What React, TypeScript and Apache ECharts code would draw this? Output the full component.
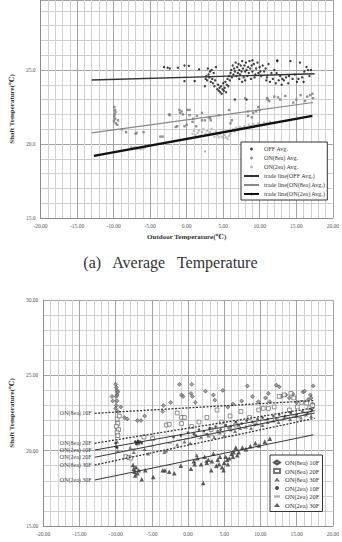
import React, { useEffect, useRef } from "react";
import * as echarts from "echarts";

type Pt = [number, number];

// ---------- Panel (a): average shaft temperature ----------
const offAvg: Pt[] = [
  [-3.1, 25.2], [-2.6, 25.15], [-2.3, 25.1], [-1.2, 25.15], [-0.3, 25.3], [0.3, 25.28], [1.7, 25.05],
  [-0.3, 24.25], [1.1, 24.25], [2.5, 23.9], [2.6, 24.4], [2.7, 24.6], [2.8, 24.3], [2.9, 25.1],
  [3.0, 24.7], [3.1, 24.5], [3.2, 24.9], [3.3, 24.2], [3.4, 25.0], [3.5, 24.4], [3.6, 24.1],
  [3.7, 24.8], [3.8, 23.9], [3.9, 24.3], [4.0, 25.2], [4.2, 23.7], [4.3, 24.0], [4.4, 23.6],
  [4.5, 23.8], [4.6, 23.5], [4.7, 23.9], [4.8, 23.4], [4.9, 23.7], [5.0, 24.1], [5.1, 23.6],
  [5.2, 23.8], [5.3, 24.2], [5.4, 23.5], [5.5, 24.0], [5.6, 24.4], [5.7, 23.9], [5.8, 24.6],
  [5.9, 24.3], [6.0, 24.8], [6.1, 25.0], [6.2, 24.5], [6.3, 25.3], [6.4, 24.7], [6.5, 25.1],
  [6.6, 24.9], [6.7, 25.5], [6.8, 24.6], [6.9, 25.2], [7.0, 24.8], [7.1, 25.4], [7.2, 25.0],
  [7.3, 24.7], [7.4, 25.3], [7.5, 24.9], [7.6, 25.6], [7.7, 25.1], [7.8, 24.5], [7.9, 25.3],
  [8.0, 24.9], [8.1, 25.5], [8.2, 25.0], [8.3, 24.6], [8.4, 25.2], [8.5, 24.8], [8.6, 25.6],
  [8.7, 25.1], [8.8, 24.4], [8.9, 25.3], [9.0, 24.9], [9.2, 25.4], [9.4, 24.7], [9.5, 25.1],
  [9.7, 25.5], [9.8, 24.8], [10.0, 25.2], [10.2, 24.6], [10.4, 25.3], [10.6, 24.9], [10.8, 25.1],
  [11.0, 24.5], [11.2, 25.4], [11.4, 24.2], [11.6, 24.8], [11.8, 24.4], [12.0, 25.0], [12.2, 24.1],
  [12.4, 25.6], [12.6, 24.3], [12.8, 24.6], [13.0, 24.0], [13.3, 24.3], [13.6, 24.5], [13.9, 24.1],
  [14.2, 25.6], [14.5, 24.4], [14.8, 24.7], [15.1, 24.2], [15.5, 25.5], [15.8, 24.5], [16.1, 24.9],
  [16.4, 25.2], [16.8, 24.6], [17.0, 25.0], [6.6, 23.0], [8.2, 23.0], [9.0, 25.65], [12.4, 25.65],
  [7.2, 24.4], [7.6, 24.2], [8.0, 24.3], [9.3, 24.5], [10.1, 24.9], [10.9, 24.3], [12.3, 24.8],
  [13.1, 24.4], [14.0, 24.6], [15.3, 24.4], [16.0, 24.2], [16.6, 25.0],
];

const on8Avg: Pt[] = [
  [-9.9, 22.5], [-9.8, 22.3], [-9.75, 22.15], [-9.85, 22.0], [-9.9, 21.85], [-9.8, 21.7],
  [-9.95, 21.55], [-9.7, 21.4], [-9.5, 21.3], [-9.4, 21.6], [-8.85, 21.0], [-8.3, 20.8],
  [-7.0, 20.7], [-6.85, 20.75], [-5.9, 20.8], [-3.6, 20.5], [-3.3, 20.5], [-2.4, 22.0],
  [-2.3, 21.95], [-1.5, 21.15], [-1.3, 21.2], [-1.0, 22.3], [-0.9, 22.1], [-0.7, 22.2],
  [-0.5, 22.0], [-0.3, 21.2], [0.0, 21.3], [0.1, 22.3], [0.4, 22.3], [0.4, 21.95], [0.8, 21.5],
  [0.9, 21.7], [1.3, 21.2], [1.4, 21.9], [2.1, 21.6], [2.1, 22.1], [2.5, 21.6], [3.0, 21.8],
  [3.2, 21.75], [3.3, 21.6], [4.4, 21.95], [5.8, 22.3], [6.0, 21.4], [6.2, 21.6], [8.0, 23.1],
  [8.4, 21.9], [8.4, 22.2], [8.9, 21.8], [9.1, 22.1], [9.5, 22.2], [9.8, 22.5], [10.0, 22.3],
  [11.0, 23.1], [11.1, 23.0], [11.3, 22.9], [12.0, 23.2], [12.5, 23.15], [12.8, 23.0], [13.5, 23.25],
  [14.6, 22.8], [15.0, 23.0], [15.6, 23.3], [16.2, 22.9], [16.5, 23.2], [16.9, 23.3], [17.2, 23.4],
  [17.3, 23.1],
];

const on2Avg: Pt[] = [
  [-7.6, 19.8], [-7.4, 19.75], [-7.2, 19.7], [-7.0, 19.8], [-6.9, 19.65], [-6.7, 19.7],
  [-6.5, 19.75], [-6.3, 19.65], [-6.0, 19.7], [-5.7, 19.75], [0.8, 20.7], [1.0, 20.9],
  [1.2, 20.6], [1.5, 20.75], [1.7, 20.9], [1.9, 20.55], [2.1, 20.8], [2.3, 21.0], [2.5, 19.5],
  [2.6, 20.7], [2.8, 20.9], [3.0, 20.6], [3.2, 20.8], [3.4, 21.0], [3.6, 20.7], [3.8, 20.5],
  [4.0, 20.85], [4.2, 20.6], [4.4, 20.45], [4.6, 20.7], [4.8, 20.5], [5.0, 20.4], [5.2, 20.6],
  [5.4, 20.45], [5.6, 20.35], [5.8, 20.55], [6.0, 20.7], [6.2, 20.9], [6.4, 21.0], [6.6, 20.85],
  [6.8, 21.1], [7.0, 20.95], [7.3, 21.15], [7.6, 21.05], [7.9, 21.2], [8.2, 21.1], [8.5, 21.3],
  [8.8, 21.2], [9.1, 21.35], [9.4, 21.25], [9.8, 21.4], [10.2, 21.3], [10.6, 21.45], [11.0, 21.4],
  [11.4, 21.5],
];

const offTrend: Pt[] = [[-13.0, 24.32], [17.5, 24.75]];
const on8Trend: Pt[] = [[-13.0, 20.75], [17.3, 22.8]];
const on2Trend: Pt[] = [[-12.7, 19.2], [17.2, 21.9]];

// ---------- Panel (b): shaft temperature by floor ----------
const on8F10: Pt[] = [
  [-10.5, 23.6], [-10.4, 23.3], [-10.0, 24.4], [-9.9, 24.2], [-9.8, 24.0], [-9.7, 23.9], [-9.8, 23.7],
  [-9.9, 23.6], [-9.8, 23.3], [-9.9, 23.0], [-10.0, 22.8], [-9.7, 22.6], [-9.3, 22.9], [-8.8, 22.2],
  [-8.4, 22.1], [-7.0, 22.0], [-6.5, 22.0], [-6.0, 22.3], [-3.4, 23.0], [-3.5, 22.6], [-2.4, 23.2],
  [-1.2, 24.4], [-0.9, 23.7], [-0.7, 23.6], [0.4, 23.8], [0.5, 24.4], [0.6, 23.6], [1.0, 23.2],
  [2.4, 23.95], [3.5, 23.7], [3.7, 23.35], [4.8, 24.0], [5.5, 22.9], [6.2, 23.1], [7.4, 23.3],
  [8.2, 24.3], [8.9, 23.6], [9.7, 23.25], [10.7, 23.5], [11.1, 23.8], [11.3, 23.25], [12.2, 24.35],
  [12.6, 24.24], [12.9, 23.6], [13.5, 23.7], [14.0, 23.5], [14.5, 23.75], [15.0, 23.2], [15.9, 23.9],
  [16.1, 23.95], [16.6, 23.4], [16.9, 23.7], [17.0, 23.5], [17.3, 24.3], [17.2, 23.1],
];

const on8F20: Pt[] = [
  [-9.8, 22.1], [-9.7, 21.8], [-9.9, 21.6], [-9.6, 21.4], [-9.8, 21.2], [-9.7, 21.0], [-9.5, 22.3],
  [-8.6, 19.6], [-8.2, 19.55], [-7.9, 19.5], [-7.0, 20.5], [-6.1, 20.9], [-4.9, 20.8], [-3.0, 21.7],
  [-2.6, 21.75], [-1.5, 22.5], [-0.9, 22.2], [-0.5, 22.2], [-0.9, 21.8], [0.5, 21.6], [1.5, 21.9],
  [2.6, 22.2], [3.2, 21.4], [4.0, 22.7], [4.6, 21.9], [5.8, 22.3], [6.6, 21.7], [7.3, 22.6],
  [8.5, 22.2], [9.75, 22.7], [10.4, 22.8], [11.1, 22.8], [11.9, 22.9], [12.6, 23.6], [13.3, 23.7],
  [14.0, 22.7], [14.2, 23.8], [14.6, 23.5], [15.1, 22.9], [15.7, 23.2], [16.4, 23.15], [16.8, 22.85],
  [17.2, 23.0],
];

const on8F30: Pt[] = [
  [-9.8, 20.6], [-9.9, 20.3], [-9.7, 20.0], [-8.0, 20.2], [-7.5, 19.9], [-6.0, 20.1], [-5.5, 19.8],
  [-3.3, 19.9], [-3.0, 20.0], [-1.5, 20.4], [-0.5, 20.6], [0.3, 20.5], [1.2, 19.7], [2.5, 19.3],
  [1.8, 20.9], [2.8, 21.0], [3.6, 20.9], [4.4, 21.2], [5.0, 21.0], [5.9, 21.4], [6.5, 21.3],
  [7.2, 21.5], [8.0, 21.6], [8.7, 21.5], [9.5, 21.8], [10.3, 21.7], [11.0, 21.9], [11.8, 22.0],
  [12.5, 21.9], [13.3, 22.2], [14.1, 22.1], [14.9, 22.3], [15.6, 22.2], [16.3, 22.4], [17.0, 22.3],
];

const on2F10: Pt[] = [
  [-10.0, 20.5], [-9.8, 20.2], [-7.3, 20.6], [-7.0, 20.55], [-6.8, 20.5], [-6.6, 20.6], [-6.4, 20.5],
  [-2.0, 20.9], [-1.0, 21.0], [0.0, 21.2], [0.8, 21.1], [1.5, 21.4], [2.2, 21.3], [3.0, 21.5],
  [3.8, 21.6], [4.5, 21.4], [5.2, 21.7], [5.9, 21.6], [6.6, 21.9], [7.4, 21.8], [8.1, 22.0],
  [8.9, 21.9], [9.6, 22.1], [10.3, 22.2], [11.0, 22.1], [11.8, 22.3], [12.6, 22.4], [13.4, 22.3],
  [14.2, 22.5], [15.0, 22.4], [15.8, 22.6], [16.5, 22.5], [17.1, 22.7], [-7.1, 20.45], [-6.9, 20.65],
  [1.1, 21.0], [2.6, 21.1], [4.1, 21.3], [5.6, 21.5], [7.0, 21.7], [9.2, 21.7], [12.2, 22.1],
];

const on2F20: Pt[] = [
  [-9.9, 20.0], [-9.6, 19.9], [-7.5, 20.1], [-5.0, 20.3], [-2.5, 20.5], [-1.3, 20.7], [-0.2, 20.8],
  [0.7, 20.9], [1.6, 20.8], [2.4, 21.1], [3.3, 21.0], [4.1, 21.3], [4.9, 21.2], [5.6, 21.5],
  [6.3, 21.4], [7.0, 21.6], [7.8, 21.5], [8.6, 21.7], [9.3, 21.8], [10.1, 21.7], [10.8, 22.0],
  [11.5, 21.9], [12.3, 22.1], [13.0, 22.0], [13.8, 22.2], [14.6, 22.3], [15.4, 22.2], [16.2, 22.4],
  [16.9, 22.5],
];

const on2F30: Pt[] = [
  [-7.6, 19.05], [-7.5, 18.8], [-7.4, 18.6], [-7.2, 18.9], [-7.0, 18.5], [-6.8, 18.7], [-6.4, 18.1],
  [-5.9, 18.7], [-4.8, 18.25], [-3.5, 18.7], [-3.2, 18.7], [-2.6, 18.6], [-1.9, 18.5], [-1.0, 19.0],
  [0.4, 18.8], [0.8, 19.3], [1.3, 19.5], [1.8, 19.1], [2.1, 17.85], [2.3, 19.6], [2.8, 19.4],
  [3.2, 18.7], [3.5, 19.8], [3.9, 19.0], [4.1, 19.4], [4.4, 19.6], [4.7, 18.9], [5.0, 19.2],
  [5.2, 19.6], [5.5, 19.1], [5.7, 19.5], [6.0, 19.8], [6.3, 19.9], [6.6, 20.2], [7.0, 19.9],
  [7.5, 20.2], [8.0, 20.1], [8.6, 20.3], [9.3, 20.5], [9.8, 20.35], [10.6, 20.6], [11.3, 20.8],
  [-7.3, 18.35], [0.9, 19.1], [2.6, 19.2], [3.3, 19.3], [4.3, 19.1], [4.9, 18.7], [5.4, 19.4],
  [6.2, 19.6], [6.8, 19.7],
];

const trend8F10: Pt[] = [[-12.9, 22.48], [17.5, 23.33]];
const trend8F20: Pt[] = [[-12.9, 20.49], [17.5, 22.85]];
const trend2F10: Pt[] = [[-12.9, 20.04], [17.5, 22.65]];
const trend2F20: Pt[] = [[-12.9, 19.56], [17.5, 22.5]];
const trend8F30: Pt[] = [[-12.9, 19.05], [17.5, 22.15]];
const trend2F30: Pt[] = [[-12.9, 18.05], [17.3, 21.05]];

// The upper panel is cut just below its 30-degree gridline.
const upperYMax = 29.73;

const SERIF = "'Liberation Serif', 'DejaVu Serif', serif";
const MAJOR = "#a2a2a2";
const MINOR = "#d0d0d0";

// One gridline per degree, darker every fifth; labels on the fifth only.
function valueAxis(gridIndex: number, min: number, max: number, digits: number, extra: any = {}) {
  return {
    type: "value",
    gridIndex,
    min,
    max,
    interval: 1,
    axisLine: { show: true, onZero: false, lineStyle: { color: "#8c8c8c", width: 1 } },
    axisTick: { show: false },
    axisLabel: {
      fontFamily: SERIF,
      fontSize: 5.5,
      color: "#555",
      margin: 5,
      formatter: (v: number) => (Math.abs(v / 5 - Math.round(v / 5)) < 1e-6 ? v.toFixed(digits) : ""),
    },
    splitLine: { show: true, lineStyle: { color: [MAJOR, MINOR, MINOR, MINOR, MINOR], width: 1 } },
    ...extra,
  };
}

const axisName = {
  fontFamily: SERIF,
  fontSize: 7,
  fontWeight: "bold",
  color: "#333",
};

function scatter(name: string, data: Pt[], idx: number, symbol: string, size: any, itemStyle: any) {
  return {
    type: "scatter",
    name,
    data,
    xAxisIndex: idx,
    yAxisIndex: idx,
    symbol,
    symbolSize: size,
    itemStyle,
    silent: true,
  };
}

function trend(name: string, pts: Pt[], idx: number, lineStyle: any, label?: string) {
  return {
    type: "line",
    name,
    xAxisIndex: idx,
    yAxisIndex: idx,
    symbol: "circle",
    symbolSize: 0,
    showSymbol: true,
    lineStyle,
    itemStyle: { color: lineStyle.color },
    silent: true,
    z: 3,
    data: pts.map((p, i) =>
      i === 0 && label
        ? {
            value: p,
            label: {
              show: true,
              position: "left",
              distance: 3,
              formatter: label,
              fontFamily: SERIF,
              fontSize: 6,
              color: "#444",
            },
          }
        : { value: p }
    ),
  };
}

export default function App() {
  const ref = useRef<HTMLDivElement>(null);

  useEffect(() => {
    if (!ref.current) return;
    const chart = echarts.init(ref.current, undefined, { renderer: "svg" });
    chart.setOption({
      animation: false,
      backgroundColor: "#fff",
      grid: [
        { left: 35, right: 9, top: 0, height: 218 },
        { left: 35, right: 9, top: 300, height: 226 },
      ],
      xAxis: [
        valueAxis(0, -20, 20, 2, {
          name: "Outdoor Temperature(\u2103)",
          nameLocation: "middle",
          nameGap: 15,
          nameTextStyle: axisName,
        }),
        valueAxis(1, -20, 20, 2),
      ],
      yAxis: [
        valueAxis(0, 15, upperYMax, 1, {
          name: "Shaft Temperature(\u2103)",
          nameLocation: "middle",
          nameGap: 21,
          nameTextStyle: axisName,
        }),
        valueAxis(1, 15, 30, 2, {
          name: "Shaft Temperature(\u2103)",
          nameLocation: "middle",
          nameGap: 24,
          nameTextStyle: axisName,
        }),
      ],
      legend: [
        {
          left: 241,
          top: 142,
          orient: "vertical",
          selectedMode: false,
          data: [
            { name: "OFF Avg.", icon: "circle" },
            { name: "ON(8ea) Avg.", icon: "circle" },
            { name: "ON(2ea) Avg.", icon: "circle" },
            "trade line(OFF Avg.)",
            "trade line(ON(8ea) Avg.)",
            "trade line(ON(2ea) Avg.)",
          ],
          itemWidth: 15,
          itemHeight: 3,
          itemGap: 3,
          padding: [4, 2, 3, 2],
          borderColor: "#333",
          borderWidth: 1,
          backgroundColor: "#fff",
          textStyle: { fontFamily: SERIF, fontSize: 6.1, color: "#333" },
        },
        {
          left: 270,
          top: 455,
          orient: "vertical",
          selectedMode: false,
          data: [
            "ON(8ea) 10F",
            "ON(8ea) 20F",
            "ON(8ea) 30F",
            { name: "ON(2ea) 10F", icon: "circle" },
            { name: "ON(2ea) 20F", icon: "path://M0,0H8V3H0Z" },
            "ON(2ea) 30F",
          ],
          itemWidth: 6,
          itemHeight: 4,
          itemGap: 1.5,
          padding: [4, 3, 3, 3],
          borderColor: "#333",
          borderWidth: 1,
          backgroundColor: "#fff",
          textStyle: { fontFamily: SERIF, fontSize: 6.5, color: "#333" },
        },
      ],
      graphic: [
        {
          type: "text",
          left: "center",
          top: 254,
          style: {
            text: "(a)   Average   Temperature",
            fontFamily: SERIF,
            fontSize: 16,
            fill: "#333",
          },
        },
      ],
      series: [
        scatter("OFF Avg.", offAvg, 0, "circle", 2.4, { color: "#111" }),
        scatter("ON(8ea) Avg.", on8Avg, 0, "rect", 2.4, { color: "#777" }),
        scatter("ON(2ea) Avg.", on2Avg, 0, "rect", 2.2, { color: "#ababab" }),
        trend("trade line(OFF Avg.)", offTrend, 0, { color: "#333", width: 1.4 }),
        trend("trade line(ON(8ea) Avg.)", on8Trend, 0, { color: "#888", width: 1.1 }),
        trend("trade line(ON(2ea) Avg.)", on2Trend, 0, { color: "#111", width: 2.4 }),

        scatter("ON(8ea) 10F", on8F10, 1, "diamond", 4, { color: "#888", borderColor: "#333", borderWidth: 0.6 }),
        scatter("ON(8ea) 20F", on8F20, 1, "rect", 3.8, { color: "#fff", borderColor: "#555", borderWidth: 0.8 }),
        scatter("ON(8ea) 30F", on8F30, 1, "triangle", 3.8, { color: "#555" }),
        scatter("ON(2ea) 10F", on2F10, 1, "circle", 2.6, { color: "#222" }),
        scatter("ON(2ea) 20F", on2F20, 1, "rect", [4, 1.5], { color: "#9a9a9a" }),
        scatter("ON(2ea) 30F", on2F30, 1, "triangle", 4.6, { color: "#333" }),
        trend("ON(8ea) 10F line", trend8F10, 1, { color: "#333", width: 1.3, type: [2, 1.5] }, "ON(8ea) 10F"),
        trend("ON(8ea) 20F line", trend8F20, 1, { color: "#333", width: 1.3, type: [2, 1.5] }, "ON(8ea) 20F"),
        trend("ON(2ea) 10F line", trend2F10, 1, { color: "#333", width: 1 }, "ON(2ea) 10F"),
        trend("ON(2ea) 20F line", trend2F20, 1, { color: "#333", width: 1 }, "ON(2ea) 20F"),
        trend("ON(8ea) 30F line", trend8F30, 1, { color: "#333", width: 1.3, type: [2, 1.5] }, "ON(8ea) 30F"),
        trend("ON(2ea) 30F line", trend2F30, 1, { color: "#333", width: 1 }, "ON(2ea) 30F"),
      ],
    });
    return () => chart.dispose();
  }, []);

  return (
    <div
      ref={ref}
      style={{ position: "fixed", left: 0, top: 0, width: 342, height: 542, background: "#fff" }}
    />
  );
}
